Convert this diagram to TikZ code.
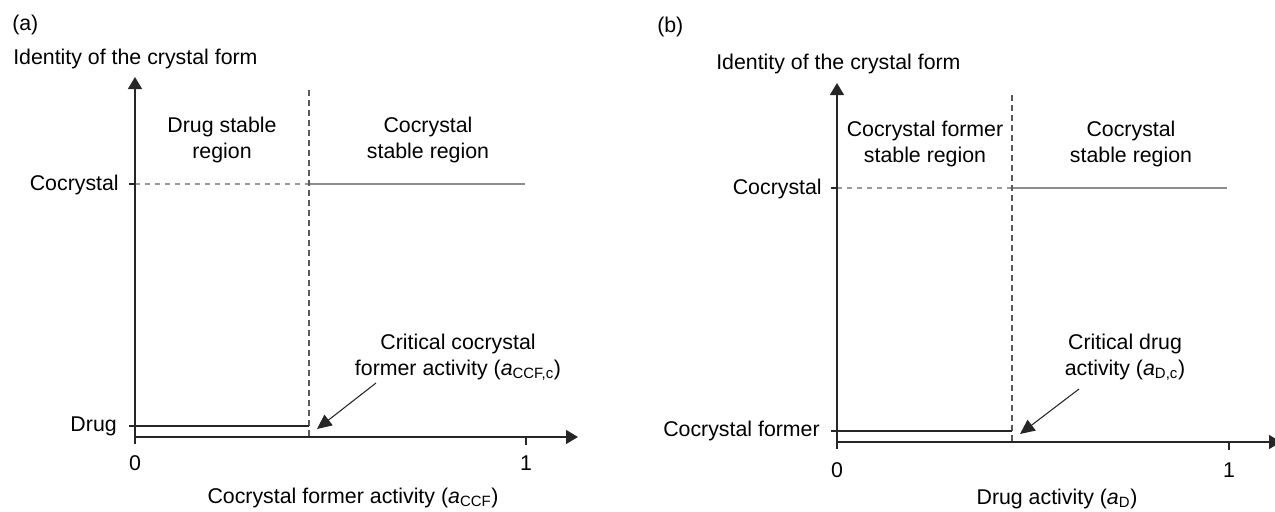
\documentclass[tikz,border=0pt]{standalone}
\usepackage{fontspec}
\setmainfont{Liberation Sans}
\usetikzlibrary{arrows.meta}
\begin{document}
\begin{tikzpicture}[x=0.75pt,y=-0.75pt,
  every node/.style={font=\fontsize{16}{19.5}\selectfont, inner sep=0pt, text=black},
  axis/.style={line width=1pt, draw=black!85, -{Triangle[length=9pt,width=10.5pt]}},
  tick/.style={line width=0.9pt, draw=black!85},
  level/.style={line width=0.9pt, draw=black!85},
  boundary/.style={line width=1pt, draw=black!65, dash pattern=on 4.5pt off 3pt},
  guide/.style={line width=0.8pt, draw=black!40, dash pattern=on 4pt off 3.5pt},
  cocline/.style={line width=0.8pt, draw=black!45},
  pointer/.style={line width=0.8pt, draw=black!85, -{Triangle[length=11pt,width=10pt]}},
  region/.style={align=center}
]
\useasboundingbox (0,0) rectangle (1275,511);

% ---------------- panel (a) ----------------
\coordinate (aO) at (135,437);
\coordinate (aYbot) at (135,444);
\coordinate (aYtop) at (135,77);
\coordinate (aXend) at (578,437);
\coordinate (aOne) at (526,437);
\coordinate (aOneT) at (526,445);
\coordinate (aCocT) at (129,184);
\coordinate (aCoc) at (135,184);
\coordinate (aCrit) at (309,184);
\coordinate (aCocEnd) at (525,184);
\coordinate (aDrugT) at (129,426);
\coordinate (aDrugEnd) at (309,426);
\coordinate (aBTop) at (309,90);
\coordinate (aBBot) at (309,437);
\coordinate (aArrTail) at (376,383);
\coordinate (aArrTip) at (317,429);

\node[anchor=west] (aTag) at (12,25) {(a)};
\node[anchor=base west] (aYlab) at (13,64) {Identity of the crystal form};

\draw[guide] (aCoc) -- (aCrit);
\draw[cocline] (aCrit) -- (aCocEnd);
\draw[boundary] (aBTop) -- (aBBot);
\draw[axis] (aYbot) -- (aYtop);
\draw[axis] (aO) -- (aXend);
\draw[tick] (aOne) -- (aOneT);
\draw[tick] (aCocT) -- (aCoc);
\draw[level] (aDrugT) -- (aDrugEnd);
\draw[pointer] (aArrTail) -- (aArrTip);

\node[anchor=east] (aCocLab) at (119,185) {Cocrystal};
\node[anchor=east] (aDrugLab) at (117,426) {Drug};
\node (aZero) at (135,463) {0};
\node (aOneLab) at (526,463) {1};
\node[region] (aReg1) at (222,140) {Drug stable\\region};
\node[region] (aReg2) at (428,140) {Cocrystal\\stable region};
\node[region] (aCritLab) at (458,357) {Critical cocrystal\\former activity (\textit{a}\textsubscript{CCF,c})};
\node (aXlab) at (353,498) {Cocrystal former activity (\textit{a}\textsubscript{CCF})};

% ---------------- panel (b) ----------------
\coordinate (bO) at (837,442);
\coordinate (bYbot) at (837,449);
\coordinate (bYtop) at (837,83);
\coordinate (bXend) at (1281,442);
\coordinate (bOne) at (1229,442);
\coordinate (bOneT) at (1229,450);
\coordinate (bCocT) at (831,188);
\coordinate (bCoc) at (837,188);
\coordinate (bCrit) at (1012,188);
\coordinate (bCocEnd) at (1227,188);
\coordinate (bCcfT) at (831,431);
\coordinate (bCcfEnd) at (1012,431);
\coordinate (bBTop) at (1012,95);
\coordinate (bBBot) at (1012,442);
\coordinate (bArrTail) at (1079,389);
\coordinate (bArrTip) at (1020,434);

\node[anchor=west] (bTag) at (657,27) {(b)};
\node[anchor=base west] (bYlab) at (716,69) {Identity of the crystal form};

\draw[guide] (bCoc) -- (bCrit);
\draw[cocline] (bCrit) -- (bCocEnd);
\draw[boundary] (bBTop) -- (bBBot);
\draw[axis] (bYbot) -- (bYtop);
\draw[axis] (bO) -- (bXend);
\draw[tick] (bOne) -- (bOneT);
\draw[tick] (bCocT) -- (bCoc);
\draw[level] (bCcfT) -- (bCcfEnd);
\draw[pointer] (bArrTail) -- (bArrTip);

\node[anchor=east] (bCocLab) at (822,189) {Cocrystal};
\node[anchor=east] (bCcfLab) at (820,431) {Cocrystal former};
\node (bZero) at (837,470) {0};
\node (bOneLab) at (1229,470) {1};
\node[region] (bReg1) at (925,144) {Cocrystal former\\stable region};
\node[region] (bReg2) at (1131,144) {Cocrystal\\stable region};
\node[region] (bCritLab) at (1125,357) {Critical drug\\activity (\textit{a}\textsubscript{D,c})};
\node (bXlab) at (1057,499) {Drug activity (\textit{a}\textsubscript{D})};
\end{tikzpicture}
\end{document}
